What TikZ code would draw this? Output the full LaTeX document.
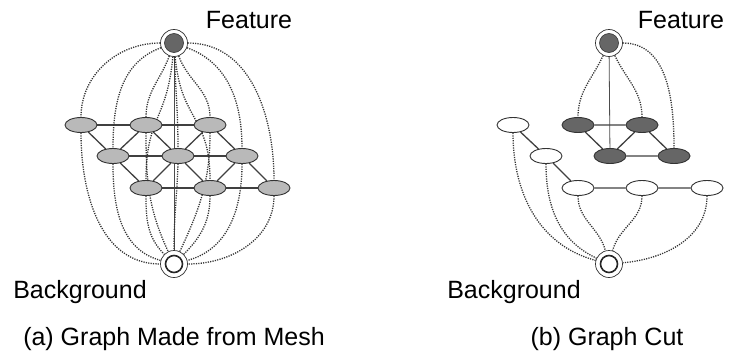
\documentclass[tikz,border=0pt]{standalone}
\usepackage{fontspec}
\setmainfont{Liberation Sans}
\usetikzlibrary{shapes.geometric,backgrounds}
\tikzset{
  meshnode/.style={ellipse, draw=black!80, line width=0.9pt, fill=gray!55, minimum width=32pt, minimum height=15pt, inner sep=0pt},
  darknode/.style={meshnode, fill=black!60},
  whitenode/.style={meshnode, fill=white},
  meshedge/.style={line width=1.3pt, draw=black!75},
  thinedge/.style={line width=0.8pt, draw=black!70},
  tlink/.style={dash pattern=on 1.2pt off 1.2pt, line width=1.3pt, draw=black!80},
  terminal/.style={circle, draw=black!80, line width=0.7pt, minimum size=27pt, inner sep=0pt, fill=white},
  lbl/.style={font=\fontsize{25}{28}\selectfont, inner sep=0pt, anchor=base}
}
\begin{document}
\begin{tikzpicture}[x=1pt,y=-1pt]
\useasboundingbox (0,0) rectangle (730,356);
% ---------- (a) ----------
\node[terminal] (F) at (174,43) {};
\node[terminal] (B) at (174,264) {};
\node[meshnode] (a11) at (81,125) {};
\node[meshnode] (a12) at (146,125) {};
\node[meshnode] (a13) at (210,125) {};
\node[meshnode] (a21) at (113,156) {};
\node[meshnode] (a22) at (178,156) {};
\node[meshnode] (a23) at (242,156) {};
\node[meshnode] (a31) at (146,188) {};
\node[meshnode] (a32) at (210,188) {};
\node[meshnode] (a33) at (274,188) {};
\fill[black!60, draw=black!80, line width=0.6pt] (F) circle (9.5pt);
\draw[black!85, line width=1.6pt] (B) circle (8.5pt);
\begin{scope}[on background layer]
  \draw[thinedge] (F) -- (B);
  \draw[meshedge] (a11) -- (a12) -- (a13) (a21) -- (a22) -- (a23) (a31) -- (a32) -- (a33);
  \draw[meshedge] (a11) -- (a21) (a12) -- (a21) (a12) -- (a22) (a13) -- (a22) (a13) -- (a23);
  \draw[meshedge] (a21) -- (a31) (a22) -- (a31) (a22) -- (a32) (a23) -- (a32) (a23) -- (a33);
  \draw[tlink] (F) to[out=180,in=90] (a11.north);
  \draw[tlink] (F) to[out=200,in=90] (a21.north);
  \draw[tlink] (F) to[out=-110,in=90] (a12.north);
  \draw[tlink] (F) to[out=-88,in=90] (a22.north);
  \draw[tlink] (F) to[out=-95,in=90,looseness=1.3] (a31.north);
  \draw[tlink] (F) to[out=-85,in=90,looseness=1.3] (a32.north);
  \draw[tlink] (F) to[out=-70,in=90] (a13.north);
  \draw[tlink] (F) to[out=-20,in=90] (a23.north);
  \draw[tlink] (F) to[out=0,in=90] (a33.north);
  \draw[tlink] (a11.south) to[out=-90,in=180] (B);
  \draw[tlink] (a21.south) to[out=-90,in=165] (B);
  \draw[tlink] (a31.south) to[out=-90,in=135] (B);
  \draw[tlink] (a12.south) to[out=-90,in=115] (B);
  \draw[tlink] (a22.south) to[out=-92,in=90] (B);
  \draw[tlink] (a13.south) to[out=-90,in=65] (B);
  \draw[tlink] (a32.south) to[out=-90,in=45] (B);
  \draw[tlink] (a23.south) to[out=-90,in=15] (B);
  \draw[tlink] (a33.south) to[out=-90,in=0] (B);
\end{scope}
\node[lbl] (fa) at (249,28) {Feature};
\node[lbl] (ba) at (80,298) {Background};
\node[lbl] (ca) at (174,345) {(a) Graph Made from Mesh};
% ---------- (b) ----------
\node[terminal] (F2) at (609,43) {};
\node[terminal] (B2) at (609,264) {};
\node[whitenode] (b11) at (513,125) {};
\node[darknode] (b12) at (578,125) {};
\node[darknode] (b13) at (642,125) {};
\node[whitenode] (b21) at (546,156) {};
\node[darknode] (b22) at (610,156) {};
\node[darknode] (b23) at (674,156) {};
\node[whitenode] (b31) at (578,188) {};
\node[whitenode] (b32) at (642,188) {};
\node[whitenode] (b33) at (707,188) {};
\fill[black!60, draw=black!80, line width=0.6pt] (F2) circle (9.5pt);
\draw[black!85, line width=1.6pt] (B2) circle (8.5pt);
\begin{scope}[on background layer]
  \draw[thinedge] (F2) -- (b22);
  \draw[meshedge] (b11) -- (b21) -- (b31) -- (b32) -- (b33);
  \draw[meshedge] (b12) -- (b13) (b12) -- (b22) (b13) -- (b22) (b13) -- (b23) (b22) -- (b23);
  \draw[tlink] (F2) to[out=-115,in=90] (b12.north);
  \draw[tlink] (F2) to[out=-65,in=90] (b13.north);
  \draw[tlink] (F2) to[out=0,in=90] (b23.north);
  \draw[tlink] (b11.south) to[out=-90,in=165] (B2);
  \draw[tlink] (b21.south) to[out=-90,in=155] (B2);
  \draw[tlink] (b31.south) to[out=-90,in=105] (B2);
  \draw[tlink] (b32.south) to[out=-90,in=75] (B2);
  \draw[tlink] (b33.south) to[out=-90,in=5] (B2);
\end{scope}
\node[lbl] (fb) at (681,28) {Feature};
\node[lbl] (bb) at (514,298) {Background};
\node[lbl] (cb) at (607,345) {(b) Graph Cut};
\end{tikzpicture}
\end{document}
